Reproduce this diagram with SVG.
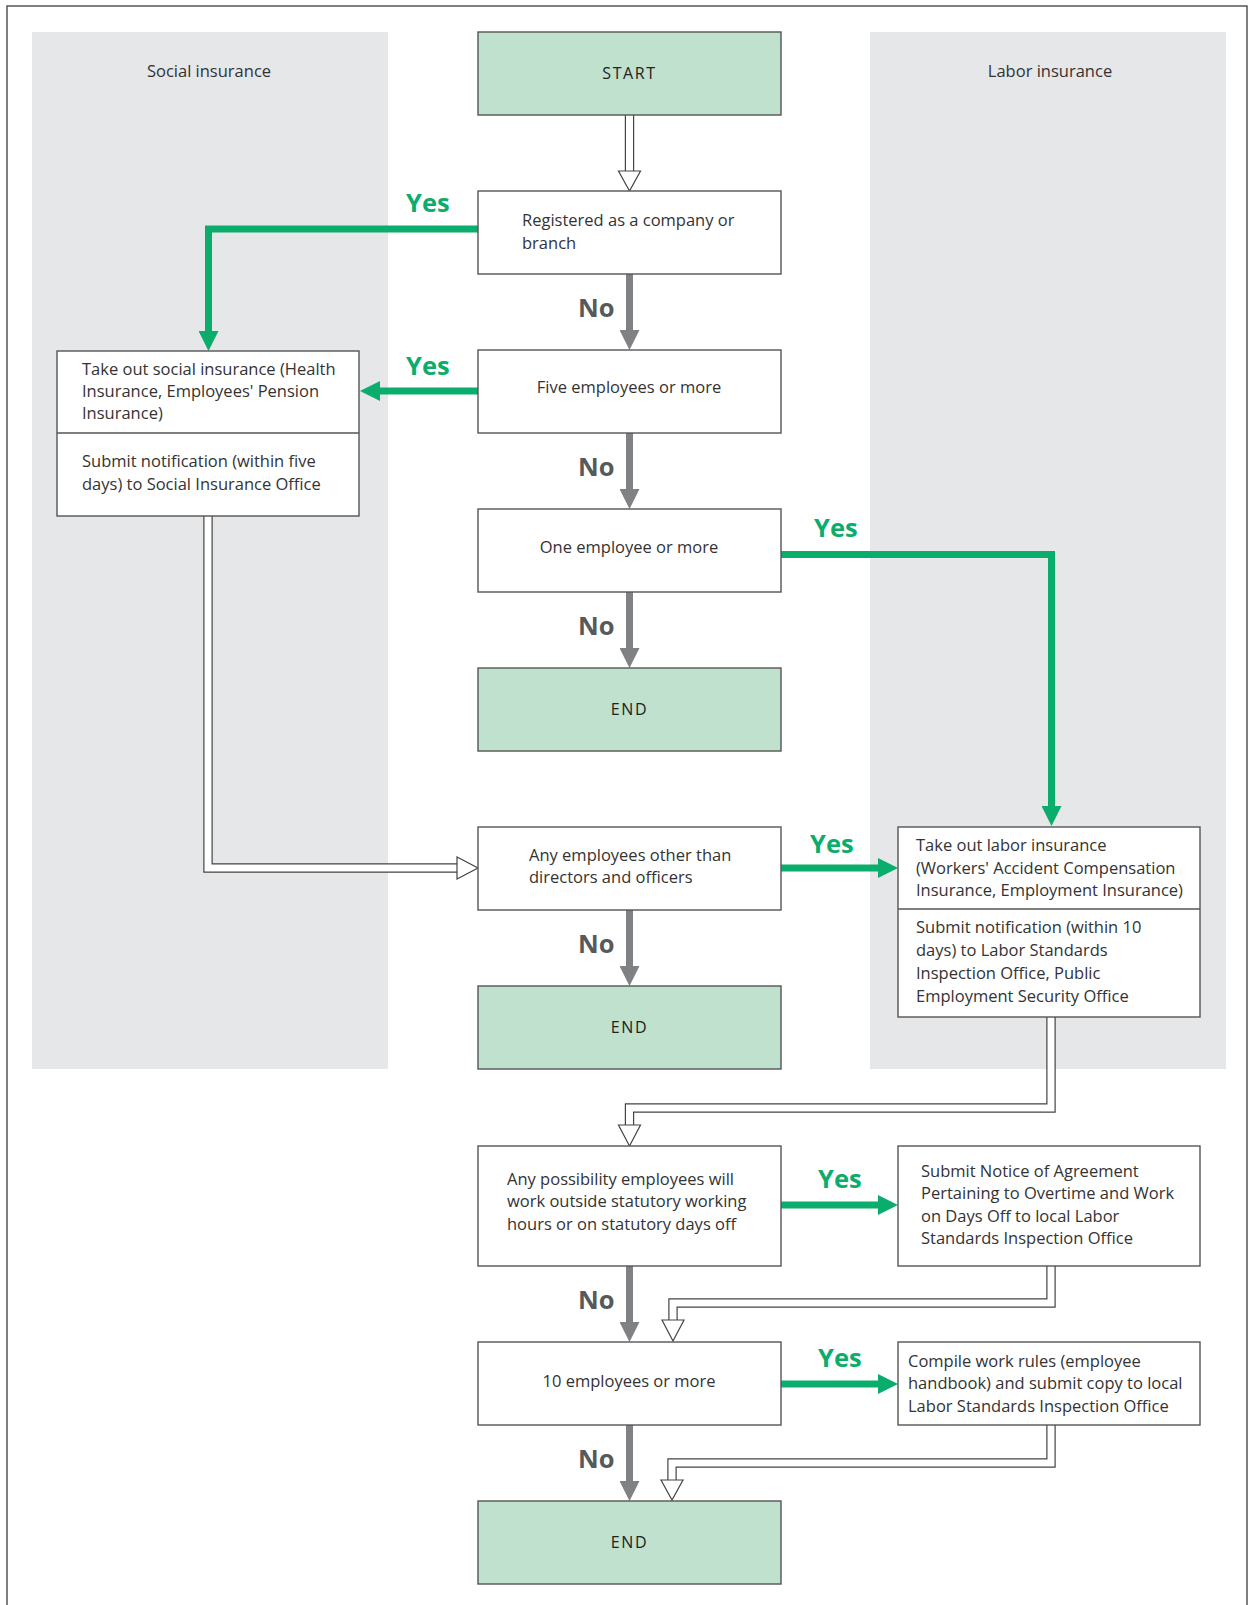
<svg xmlns="http://www.w3.org/2000/svg" width="1248" height="1605" viewBox="0 0 1248 1605">
<style>
.panel{fill:#e6e7e9}
.box{fill:#fff;stroke:#555;stroke-width:1.4}
.term{fill:#bfe1ce;stroke:#555;stroke-width:1.4}
.div{stroke:#555;stroke-width:1.4}
.t{font-family:"Open Sans","Noto Sans","Liberation Sans",sans-serif;font-size:16.5px;fill:#333}
.c{text-anchor:middle}
.term-t{font-family:"Open Sans","Noto Sans","Liberation Sans",sans-serif;font-size:16px;fill:#222;text-anchor:middle;letter-spacing:1.6px}
.yes{font-family:"Open Sans","Noto Sans","Liberation Sans",sans-serif;font-size:25.5px;font-weight:bold;fill:#0aad6b}
.no{font-family:"Open Sans","Noto Sans","Liberation Sans",sans-serif;font-size:25.5px;font-weight:bold;fill:#58595b}
.g{fill:none;stroke:#0aad6b;stroke-width:7;marker-end:url(#ga)}
.gr{fill:none;stroke:#808184;stroke-width:7;marker-end:url(#gra)}
.ho{fill:none;stroke:#444;stroke-width:9.4}
.hi{fill:none;stroke:#fff;stroke-width:7}
.hh{fill:#fff;stroke:#444;stroke-width:1.2;stroke-linejoin:miter}
</style>
<defs>
<marker id="ga" markerUnits="userSpaceOnUse" markerWidth="20" markerHeight="20" refX="0" refY="10" orient="auto"><path d="M0,0 L20,10 L0,20 z" fill="#0aad6b"/></marker>
<marker id="gra" markerUnits="userSpaceOnUse" markerWidth="20" markerHeight="20" refX="0" refY="10" orient="auto"><path d="M0,0 L20,10 L0,20 z" fill="#808184"/></marker>
</defs>
<rect width="1248" height="1605" fill="#fff"/>
<path d="M7,1605 V6 H1247 V1605" fill="none" stroke="#555" stroke-width="1.5"/>
<g id="panel-social"><rect class="panel" x="32" y="32" width="356" height="1037"/><text class="t c" x="209" y="77">Social insurance</text></g>
<g id="panel-labor"><rect class="panel" x="870" y="32" width="356" height="1037"/><text class="t c" x="1050" y="77">Labor insurance</text></g>

<g id="connectors">
<!-- hollow arrows -->
<path class="ho" d="M629.5,115 V172"/><path class="hi" d="M629.5,114 V172"/>
<polygon class="hh" points="618.5,171 640.5,171 629.5,191"/>
<path class="ho" d="M208,516 V868 H458"/><path class="hi" d="M208,515 V868 H458"/>
<polygon class="hh" points="457,857 457,879 478,868"/>
<path class="ho" d="M1051,1017 V1108 H629.5 V1126"/><path class="hi" d="M1051,1016 V1108 H629.5 V1126"/>
<polygon class="hh" points="618.5,1125 640.5,1125 629.5,1146"/>
<path class="ho" d="M1051,1266 V1303 H673 V1321"/><path class="hi" d="M1051,1265 V1303 H673 V1321"/>
<polygon class="hh" points="662,1320 684,1320 673,1341"/>
<path class="ho" d="M1051,1425 V1463 H672 V1481"/><path class="hi" d="M1051,1424 V1463 H672 V1481"/>
<polygon class="hh" points="661,1480 683,1480 672,1500"/>
<!-- green yes arrows -->
<path class="g" d="M478,229 H208.5 V331"/>
<path class="g" d="M478,391 H380"/>
<path class="g" d="M781,554.5 H1051.5 V806"/>
<path class="g" d="M781,868 H878"/>
<path class="g" d="M781,1205 H878"/>
<path class="g" d="M781,1384 H878"/>
<!-- gray no arrows -->
<path class="gr" d="M629.5,274 V330"/>
<path class="gr" d="M629.5,433 V489"/>
<path class="gr" d="M629.5,592 V648"/>
<path class="gr" d="M629.5,910 V966"/>
<path class="gr" d="M629.5,1266 V1322"/>
<path class="gr" d="M629.5,1425 V1481"/>
<!-- labels -->
<text class="yes" x="406" y="212">Yes</text>
<text class="yes" x="406" y="375">Yes</text>
<text class="yes" x="814" y="537">Yes</text>
<text class="yes" x="810" y="853">Yes</text>
<text class="yes" x="818" y="1188">Yes</text>
<text class="yes" x="818" y="1367">Yes</text>
<text class="no" x="578" y="317">No</text>
<text class="no" x="578" y="476">No</text>
<text class="no" x="578" y="635">No</text>
<text class="no" x="578" y="953">No</text>
<text class="no" x="578" y="1309">No</text>
<text class="no" x="578" y="1468">No</text>
</g>

<g id="start"><rect class="term" x="478" y="32" width="303" height="83"/><text class="term-t" x="629.5" y="79">START</text></g>
<g id="registered"><rect class="box" x="478" y="191" width="303" height="83"/><text class="t" x="522" y="226">Registered as a company or</text><text class="t" x="522" y="249">branch</text></g>
<g id="five"><rect class="box" x="478" y="350" width="303" height="83"/><text class="t c" x="629" y="393">Five employees or more</text></g>
<g id="one"><rect class="box" x="478" y="509" width="303" height="83"/><text class="t c" x="629" y="553">One employee or more</text></g>
<g id="end1"><rect class="term" x="478" y="668" width="303" height="83"/><text class="term-t" x="629.5" y="715">END</text></g>
<g id="social"><rect class="box" x="57" y="351" width="302" height="165"/><line class="div" x1="57" y1="433" x2="359" y2="433"/>
<text class="t" x="82" y="375">Take out social insurance (Health</text><text class="t" x="82" y="397">Insurance, Employees' Pension</text><text class="t" x="82" y="419">Insurance)</text>
<text class="t" x="82" y="467">Submit notification (within five</text><text class="t" x="82" y="490">days) to Social Insurance Office</text></g>
<g id="any"><rect class="box" x="478" y="827" width="303" height="83"/><text class="t" x="529" y="861">Any employees other than</text><text class="t" x="529" y="883">directors and officers</text></g>
<g id="end2"><rect class="term" x="478" y="986" width="303" height="83"/><text class="term-t" x="629.5" y="1033">END</text></g>
<g id="labor"><rect class="box" x="898" y="827" width="302" height="190"/><line class="div" x1="898" y1="909" x2="1200" y2="909"/>
<text class="t" x="916" y="851">Take out labor insurance</text><text class="t" x="916" y="874">(Workers' Accident Compensation</text><text class="t" x="916" y="896">Insurance, Employment Insurance)</text>
<text class="t" x="916" y="933">Submit notification (within 10</text><text class="t" x="916" y="956">days) to Labor Standards</text><text class="t" x="916" y="979">Inspection Office, Public</text><text class="t" x="916" y="1002">Employment Security Office</text></g>
<g id="possibility"><rect class="box" x="478" y="1146" width="303" height="120"/><text class="t" x="507" y="1185">Any possibility employees will</text><text class="t" x="507" y="1207">work outside statutory working</text><text class="t" x="507" y="1230">hours or on statutory days off</text></g>
<g id="notice"><rect class="box" x="898" y="1146" width="302" height="120"/><text class="t" x="921" y="1177">Submit Notice of Agreement</text><text class="t" x="921" y="1199">Pertaining to Overtime and Work</text><text class="t" x="921" y="1222">on Days Off to local Labor</text><text class="t" x="921" y="1244">Standards Inspection Office</text></g>
<g id="ten"><rect class="box" x="478" y="1342" width="303" height="83"/><text class="t c" x="629" y="1387">10 employees or more</text></g>
<g id="compile"><rect class="box" x="898" y="1342" width="302" height="83"/><text class="t" x="908" y="1367">Compile work rules (employee</text><text class="t" x="908" y="1389">handbook) and submit copy to local</text><text class="t" x="908" y="1412">Labor Standards Inspection Office</text></g>
<g id="end3"><rect class="term" x="478" y="1501" width="303" height="83"/><text class="term-t" x="629.5" y="1548">END</text></g>
</svg>
